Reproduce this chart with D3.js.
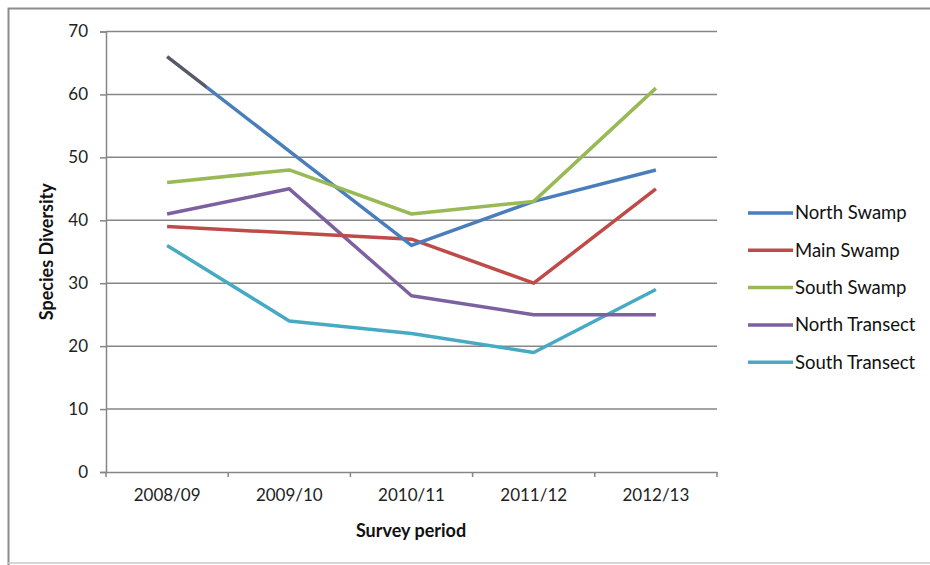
<!DOCTYPE html>
<html><head><meta charset="utf-8">
<script src="https://cdn.jsdelivr.net/npm/d3@7/dist/d3.min.js"></script>
<style>body{margin:0;background:#fff;}svg{display:block;font-family:Lato,"Open Sans",sans-serif;}</style>
</head><body>
<script>
const categories = ["2008/09","2009/10","2010/11","2011/12","2012/13"];
const seriesNames = ["North Swamp","Main Swamp","South Swamp","North Transect","South Transect"];
const northSwamp = [66,51,36,43,48];
const mainSwamp = [39,38,37,30,45];
const southSwamp = [46,48,41,43,61];
const northTransect = [41,45,28,25,25];
const southTransect = [36,24,22,19,29];
const colors = ["#4A7EBB","#BE4B48","#98B954","#7D60A0","#46AAC5"];
const yTicks = [0,10,20,30,40,50,60,70];

const seriesValues = [northSwamp, mainSwamp, southSwamp, northTransect, southTransect];

const W = 930, H = 565;
const svg = d3.select("body").append("svg").attr("width", W).attr("height", H);

// outer frame
svg.append("path").attr("d","M8.5,935 L8.5,8.5 L935,8.5").attr("fill","none").attr("stroke","#8c8c8c").attr("stroke-width",2);
svg.append("line").attr("x1",8).attr("x2",935).attr("y1",563).attr("y2",563).attr("stroke","#c8c8c8").attr("stroke-width",1.5);

const pLeft = 106, pRight = 717, pTop = 31.5, pBottom = 472;
const x = d3.scaleBand().domain(categories).range([pLeft, pRight]);
const y = d3.scaleLinear().domain([0,70]).range([pBottom, pTop]);

// gridlines
svg.append("g").selectAll("line").data(yTicks.filter(d=>d>0)).join("line")
  .attr("x1", pLeft).attr("x2", pRight)
  .attr("y1", d=>y(d)).attr("y2", d=>y(d))
  .attr("stroke","#868686").attr("stroke-width",1.5);

// y axis
const yAxis = svg.append("g").attr("transform",`translate(${pLeft},0)`)
  .call(d3.axisLeft(y).tickValues(yTicks).tickSize(6).tickPadding(12).tickFormat(d3.format("d")));
yAxis.select(".domain").attr("stroke","#868686").attr("stroke-width",1.5);
yAxis.selectAll(".tick line").attr("stroke","#868686").attr("stroke-width",1.5);
yAxis.selectAll("text").attr("font-size",17).attr("fill","#222").attr("font-family","Lato, sans-serif");

// x axis
const xAxis = svg.append("g").attr("transform",`translate(0,${pBottom})`)
  .call(d3.axisBottom(x).tickSize(0).tickPadding(17));
xAxis.select(".domain").attr("stroke","#868686").attr("stroke-width",1.5);
xAxis.selectAll("text").attr("font-size",17).attr("fill","#222").attr("font-family","Lato, sans-serif");
// boundary tick marks
const bounds = categories.map(c=>x(c)).concat([pRight]);
svg.append("g").selectAll("line").data(bounds).join("line")
  .attr("x1",d=>d).attr("x2",d=>d).attr("y1",pBottom).attr("y2",pBottom+5)
  .attr("stroke","#868686").attr("stroke-width",1.5);

// gradient for the greyish start of North Swamp
const defs = svg.append("defs");
const grad = defs.append("linearGradient").attr("id","nsGrad").attr("gradientUnits","userSpaceOnUse")
  .attr("x1",0).attr("x2",W).attr("y1",0).attr("y2",0);
grad.append("stop").attr("offset",(206/W)).attr("stop-color","#555a66");
grad.append("stop").attr("offset",(207/W)).attr("stop-color",colors[0]);
grad.append("stop").attr("offset",1).attr("stop-color",colors[0]);

const line = d3.line().x((d,i)=>x(categories[i]) + x.bandwidth()/2).y(d=>y(d));
const order = [4,3,1,0,2];
order.forEach(k=>{
  svg.append("path").datum(seriesValues[k]).attr("d", line)
    .attr("fill","none")
    .attr("stroke", k===0 ? "url(#nsGrad)" : colors[k])
    .attr("stroke-width",3.5).attr("stroke-linejoin","round").attr("stroke-linecap","butt");
});

// axis titles
svg.append("text").attr("x", 411).attr("y", 537).attr("text-anchor","middle")
  .attr("font-size",18).attr("font-weight","bold").attr("fill","#111").text("Survey period");
svg.append("text").attr("transform",`translate(53,${(pTop+pBottom)/2}) rotate(-90)`).attr("text-anchor","middle")
  .attr("font-size",18).attr("font-weight","bold").attr("fill","#111").text("Species Diversity");

// legend
const lg = svg.append("g");
seriesNames.forEach((n,i)=>{
  const yy = 213 + i*37.3;
  lg.append("line").attr("x1",748).attr("x2",793).attr("y1",yy).attr("y2",yy)
    .attr("stroke",colors[i]).attr("stroke-width",3.5);
  lg.append("text").attr("x",795).attr("y",yy).attr("dy","0.35em")
    .attr("font-size",18.5).attr("fill","#111").text(n);
});
</script>
</body></html>
